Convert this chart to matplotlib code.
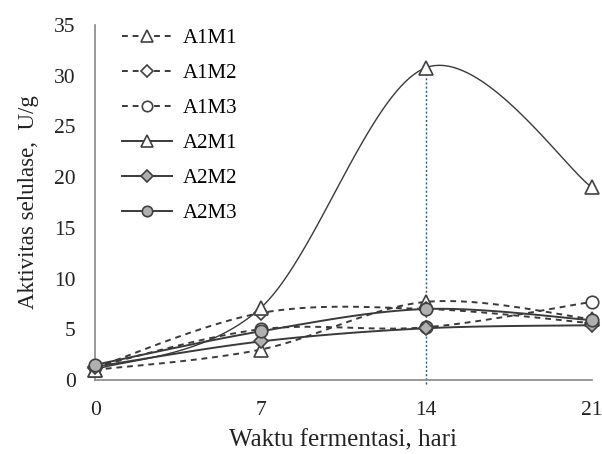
import numpy as np
import matplotlib
matplotlib.use("Agg")
import matplotlib.pyplot as plt

days = [0, 7, 14, 21]
a1m1 = [1.0, 3.0, 7.7, 6.0]
a1m2 = [1.2, 6.6, 7.0, 5.6]
a1m3 = [1.3, 5.0, 5.2, 7.7]
a2m1 = [1.0, 7.1, 30.8, 19.0]
a2m2 = [1.3, 3.8, 5.1, 5.4]
a2m3 = [1.5, 4.8, 7.0, 5.9]
peak_day = 14


def smooth(x, y, n=40):
    # Excel style smoothed line: cubic Bezier between points
    x = np.asarray(x, float)
    y = np.asarray(y, float)
    px, py = [], []
    for i in range(len(x) - 1):
        x0, y0 = (x[i - 1], y[i - 1]) if i > 0 else (x[i], y[i])
        x3, y3 = (x[i + 2], y[i + 2]) if i + 2 < len(x) else (x[i + 1], y[i + 1])
        c1 = (x[i] + (x[i + 1] - x0) / 6, y[i] + (y[i + 1] - y0) / 6)
        c2 = (x[i + 1] - (x3 - x[i]) / 6, y[i + 1] - (y3 - y[i]) / 6)
        t = np.linspace(0, 1, n)
        px.extend((1 - t) ** 3 * x[i] + 3 * (1 - t) ** 2 * t * c1[0] + 3 * (1 - t) * t ** 2 * c2[0] + t ** 3 * x[i + 1])
        py.extend((1 - t) ** 3 * y[i] + 3 * (1 - t) ** 2 * t * c1[1] + 3 * (1 - t) * t ** 2 * c2[1] + t ** 3 * y[i + 1])
    return px, py


plt.rcParams['font.family'] = ['Liberation Serif', 'DejaVu Serif']

fig = plt.figure(figsize=(6.02, 4.54), dpi=100)
ax = fig.add_axes([0.158, 0.163, 0.825, 0.782])

line_col = '#3a3a3a'
series = [
    ("A1M1", a1m1, (0, (3, 2.5)), '^', 'white'),
    ("A1M2", a1m2, (0, (3, 2.5)), 'D', 'white'),
    ("A1M3", a1m3, (0, (3, 2.5)), 'o', 'white'),
    ("A2M1", a2m1, '-', '^', 'white'),
    ("A2M2", a2m2, '-', 'D', '#b0b0b0'),
    ("A2M3", a2m3, '-', 'o', '#b0b0b0'),
]

ax.plot([peak_day, peak_day], [-0.4, a2m1[2]], color='#3050a0', lw=1.0,
        ls=(0, (1.5, 1.5)), clip_on=False, zorder=1)

for name, vals, ls, mk, fc in series:
    sx, sy = smooth(days, vals)
    lw = 1.0 if name == "A2M1" else 1.4
    ax.plot(sx, sy, color=line_col, lw=lw, ls=ls, clip_on=False, zorder=2)
    ms = 9.5 if mk == '^' else (7.5 if mk == 'D' else 9)
    ax.plot(days, vals, ls='none', marker=mk, ms=ms, mfc=fc, mec='#404040',
            mew=1.2, clip_on=False, zorder=3)
    ax.plot([], [], color=line_col, lw=1.4, ls=ls, marker=mk, ms=ms - 1.5,
            mfc=fc, mec='#404040', mew=1.2, label=name)

ax.set_xlim(0, 21)
ax.set_ylim(0, 35)
ax.set_xticks(days)
ax.set_yticks(range(0, 36, 5))
ax.tick_params(length=0, labelsize=15.5, colors='#222222')
ax.tick_params(axis='x', pad=15)
ax.tick_params(axis='y', pad=14)
for s in ['top', 'right']:
    ax.spines[s].set_visible(False)
for s in ['left', 'bottom']:
    ax.spines[s].set_color('#888888')
    ax.spines[s].set_linewidth(1.2)

ax.set_xlabel("Waktu fermentasi, hari", fontsize=18, color='#222222', labelpad=7)
ax.set_ylabel("Aktivitas selulase,  U/g", fontsize=16.5, color='#222222', labelpad=11)

ax.legend(loc='upper left', bbox_to_anchor=(0.055, 0.99), frameon=False,
          fontsize=15, handlelength=2.4, labelspacing=0.74, handletextpad=0.5,
          borderaxespad=0, borderpad=0)

fig.savefig("out.png", dpi=100)
